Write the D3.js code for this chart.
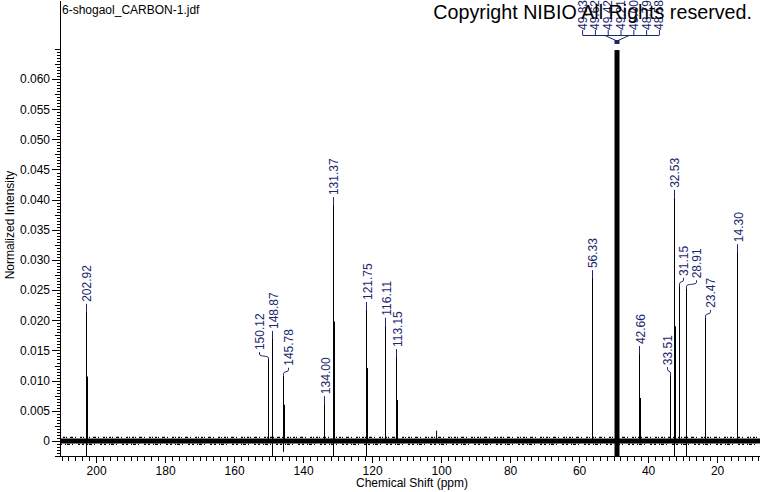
<!DOCTYPE html>
<html lang="en">
<head>
<meta charset="utf-8">
<title>6-shogaol 13C NMR</title>
<script src="https://d3js.org/d3.v7.min.js"></script>
<style>
    html, body { margin: 0; padding: 0; background: #fff; }
    text { font-family: "Liberation Sans", Arial, sans-serif; }
    .axis path, .axis line { fill: none; stroke: #000; shape-rendering: crispEdges; }
    .axis text { font-size: 12px; fill: #000; }
</style>
</head>
<body>
<script>
    // peak picks (ppm) and their heights (normalized intensity)
    var peakShifts  = [202.92, 150.12, 148.87, 145.78, 134.00, 131.37, 121.75, 116.11, 113.15,
                       56.33, 42.66, 33.51, 32.53, 31.15, 28.91, 23.47, 14.30];
    var peakHeights = [0.0214, 0.0134, 0.0169, 0.0108, 0.0061, 0.0391, 0.0217, 0.0191, 0.0139,
                       0.0270, 0.0144, 0.0109, 0.0403, 0.0257, 0.0253, 0.0204, 0.0313];
    // height where the peak gets broader (lower, thicker part)
    var peakBroad   = [0.0107, 0, 0, 0.0060, 0, 0.0198, 0.0121, 0, 0.0068,
                       0, 0.0071, 0, 0.0190, 0, 0, 0, 0];
    // lowest point of each peak (some dip below the baseline)
    var peakFloor   = [-0.0025, 0, -0.0025, -0.0018, 0, -0.0025, -0.0025, 0, 0,
                       0, 0, 0, -0.0025, 0, -0.0025, 0, 0];

    // solvent (CD3OD) multiplet
    var solventShifts = [49.83, 49.62, 49.42, 49.21, 49.00, 48.79, 48.58];
    var solventCenter = 49.00;
    var solventHeight = 0.0648;

    // small unlabeled spike
    var spikeShifts = [101.3];
    var spikeHeights = [0.0017];

    var xMajorTicks = [200, 180, 160, 140, 120, 100, 80, 60, 40, 20];
    var yMajorTicks = [0, 0.005, 0.010, 0.015, 0.020, 0.025, 0.030, 0.035, 0.040, 0.045, 0.050, 0.055, 0.060];

    var w = 760, h = 492;
    var navy = "#1c2670";

    // label nudges in px (labels pushed sideways when crowded)
    var labelNudge = [0, -9, 1, 5, 1, 0, 1, 1, 1, 0, 1, -3, 0, 4, 10, 5, 1];

    var x = d3.scaleLinear().domain([210.46, 7.55]).range([60, 760]);
    var y = d3.scaleLinear().domain([-0.0025, 0.0731]).range([456, 0]);

    var svg = d3.select("body").append("svg")
        .attr("width", w)
        .attr("height", h);

    svg.append("defs").append("clipPath").attr("id", "plot")
        .append("rect").attr("x", 60).attr("y", 0).attr("width", 700).attr("height", 456);

    var plot = svg.append("g").attr("clip-path", "url(#plot)");

    // baseline noise band
    var y0 = y(0);
    plot.append("line")
        .attr("x1", 60).attr("x2", 760).attr("y1", y0).attr("y2", y0)
        .attr("stroke", "#000").attr("stroke-width", 5);
    plot.append("line")
        .attr("x1", 60).attr("x2", 760).attr("y1", y0 - 3.5).attr("y2", y0 - 3.5)
        .attr("stroke", "#000").attr("stroke-width", 1.2)
        .attr("stroke-dasharray", "1,2,2,1,1,3,3,2,1,4,2,1");
    plot.append("line")
        .attr("x1", 60).attr("x2", 760).attr("y1", y0 + 3.5).attr("y2", y0 + 3.5)
        .attr("stroke", "#000").attr("stroke-width", 1.2)
        .attr("stroke-dasharray", "2,3,1,1,3,2,1,5,2,2");

    spikeShifts.forEach(function(s, i) {
        plot.append("line")
            .attr("x1", x(s)).attr("x2", x(s))
            .attr("y1", y(0)).attr("y2", y(spikeHeights[i]))
            .attr("stroke", "#000").attr("stroke-width", 1);
    });

    // peaks
    peakShifts.forEach(function(s, i) {
        var px = Math.round(x(s)) + 0.5;
        plot.append("line")
            .attr("x1", px).attr("x2", px)
            .attr("y1", y(peakFloor[i])).attr("y2", y(peakHeights[i]))
            .attr("stroke", "#000").attr("stroke-width", 1);
        if (peakBroad[i] > 0) {
            plot.append("line")
                .attr("x1", px + 0.5).attr("x2", px + 0.5)
                .attr("y1", y(0)).attr("y2", y(peakBroad[i]))
                .attr("stroke", "#000").attr("stroke-width", 2);
        }
    });

    // solvent multiplet bar
    var sx = x(solventCenter);
    plot.append("rect")
        .attr("x", sx - 2.5).attr("width", 5)
        .attr("y", y(solventHeight)).attr("height", y(-0.0025) - y(solventHeight))
        .attr("fill", "#000");

    // peak labels
    var labels = svg.append("g");
    peakShifts.forEach(function(s, i) {
        var px = Math.round(x(s)) + 0.5;
        var top = y(peakHeights[i]);
        var lx = px + labelNudge[i];
        if (Math.abs(labelNudge[i]) < 2) {
            labels.append("line")
                .attr("x1", px).attr("x2", px).attr("y1", top).attr("y2", top - 8)
                .attr("stroke", navy).attr("stroke-width", 1);
        } else {
            labels.append("path")
                .attr("d", "M" + px + "," + top + "L" + px + "," + (top - 2) +
                    "C" + px + "," + (top - 5) + " " + lx + "," + (top - 3) + " " + lx + "," + (top - 6) +
                    "L" + lx + "," + (top - 8))
                .attr("fill", "none").attr("stroke", navy).attr("stroke-width", 1);
        }
        labels.append("text")
            .attr("transform", "translate(" + lx + "," + (top - 10) + ") rotate(-90)")
            .attr("dominant-baseline", "central")
            .attr("font-size", "12px")
            .attr("fill", navy)
            .text(s.toFixed(2));
    });

    // solvent labels with bracket
    var step = 12.8;
    var sLabelX = solventShifts.map(function(d, i) { return sx + 4 + (i - 3) * step; });
    solventShifts.forEach(function(s, i) {
        labels.append("text")
            .attr("transform", "translate(" + sLabelX[i] + ",30) rotate(-90)")
            .attr("dominant-baseline", "central")
            .attr("font-size", "12px")
            .attr("fill", navy)
            .text(s.toFixed(2));
        labels.append("line")
            .attr("x1", sLabelX[i]).attr("x2", sLabelX[i]).attr("y1", 30).attr("y2", 35)
            .attr("stroke", navy);
    });
    labels.append("line")
        .attr("x1", sLabelX[0]).attr("x2", sLabelX[6]).attr("y1", 35.5).attr("y2", 35.5)
        .attr("stroke", navy);
    labels.append("path")
        .attr("d", "M" + (sx - 12) + ",35.5L" + sx + ",41L" + (sx + 12) + ",35.5")
        .attr("fill", "none").attr("stroke", navy);
    labels.append("rect")
        .attr("x", sx - 2.5).attr("y", 40).attr("width", 5).attr("height", 4)
        .attr("fill", navy);

    // axes
    var xMinor = d3.range(8, 211, 2);
    svg.append("g").attr("class", "axis")
        .attr("transform", "translate(0,456)")
        .call(d3.axisBottom(x).tickValues(xMinor).tickSize(5).tickSizeOuter(0).tickFormat(""));
    svg.append("g").attr("class", "axis")
        .attr("transform", "translate(0,456)")
        .call(d3.axisBottom(x).tickValues(xMajorTicks).tickSize(7).tickPadding(3).tickSizeOuter(0)
            .tickFormat(d3.format("d")))
        .select(".domain").remove();

    var yMinor = d3.range(-5, 131).map(function(i) { return i * 0.0005; });
    var yMid = d3.range(-1, 27).map(function(i) { return i * 0.0025; });
    svg.append("g").attr("class", "axis")
        .attr("transform", "translate(60,0)")
        .call(d3.axisLeft(y).tickValues(yMinor).tickSize(3).tickSizeOuter(0).tickFormat(""));
    svg.append("g").attr("class", "axis")
        .attr("transform", "translate(60,0)")
        .call(d3.axisLeft(y).tickValues(yMid).tickSize(5).tickSizeOuter(0).tickFormat(""))
        .select(".domain").remove();
    svg.append("g").attr("class", "axis")
        .attr("transform", "translate(60,0)")
        .call(d3.axisLeft(y).tickValues(yMajorTicks).tickSize(8).tickPadding(2).tickSizeOuter(0)
            .tickFormat(function(d) { return d === 0 ? "0" : d3.format(".3f")(d); }))
        .select(".domain").remove();

    // titles
    svg.append("text")
        .attr("x", 62).attr("y", 14)
        .attr("font-size", "12px")
        .text("6-shogaol_CARBON-1.jdf");

    var copy = svg.append("text")
        .attr("x", 752).attr("y", 19)
        .attr("text-anchor", "end")
        .attr("font-size", "17px")
        .text("Copyright NIBIO All Rights reserved.");
    var cw = copy.node().getComputedTextLength();
    copy.attr("font-size", (17 * 319 / cw).toFixed(2) + "px");

    svg.append("text")
        .attr("x", 412).attr("y", 487)
        .attr("text-anchor", "middle")
        .attr("font-size", "12px")
        .text("Chemical Shift (ppm)");

    svg.append("text")
        .attr("transform", "translate(14,225) rotate(-90)")
        .attr("text-anchor", "middle")
        .attr("font-size", "12px")
        .text("Normalized Intensity");
</script>
</body>
</html>
